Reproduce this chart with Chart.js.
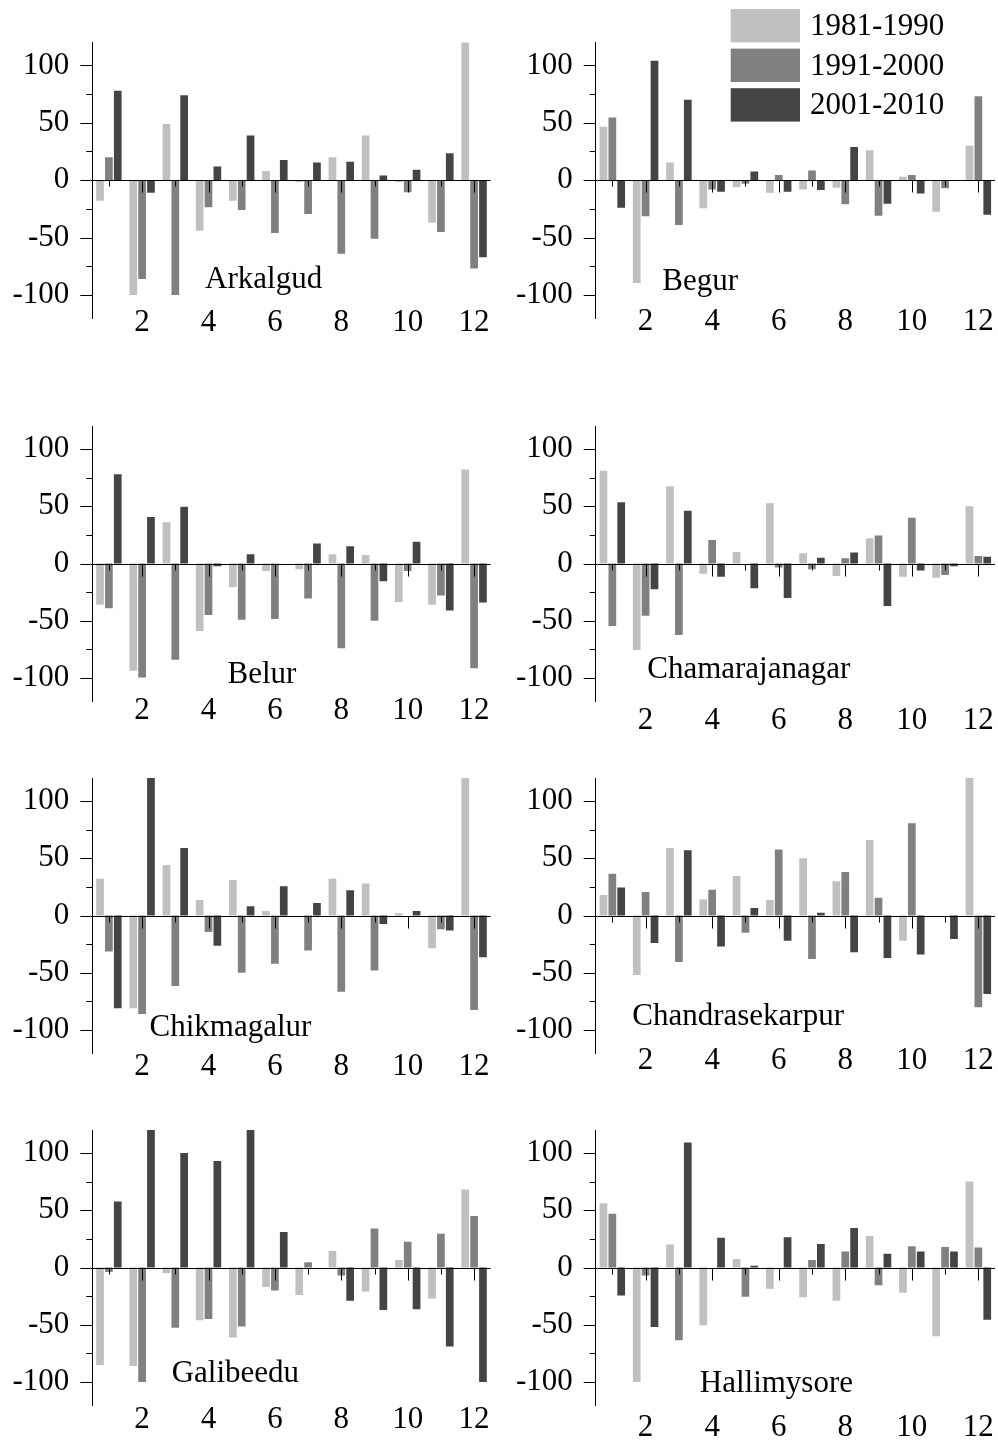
<!DOCTYPE html>
<html>
<head>
<meta charset="utf-8">
<script src="https://cdn.jsdelivr.net/npm/chart.js@4.4.1/dist/chart.umd.min.js"></script>
<style>
  body { margin: 0; background: #fff; width: 998px; height: 1444px; position: relative; overflow: hidden; }
  canvas { position: absolute; }
</style>
</head>
<body>
<script>
// months on the x axis, periods in the legend
const months = ['1', '2', '3', '4', '5', '6', '7', '8', '9', '10', '11', '12'];
const periods = ['1981-1990', '1991-2000', '2001-2010'];
const shades = ['#c0c0c0', '#808080', '#444444'];
const yLabels = [-100, -50, 0, 50, 100];
const yTickVals = [-100, -75, -50, -25, 0, 25, 50, 75, 100];

// values (bars above 120 are cut off in the original)
const arkalgud81 = [-18, -100, 49, -44, -18, 8, -1.5, 20, 39, -1.5, -37, 135];
const arkalgud91 = [20, -86, -100, -23.5, -26, -46, -29.5, -64, -51, -10.5, -45, -77];
const arkalgud01 = [78, -11, 74, 12, 39, 17.5, 15.5, 16, 4, 9, 23.5, -67];

const begur81 = [46.5, -89.5, 15.5, -24.5, -6, -11, -8, -6.5, 26, 3, -27.5, 30];
const begur91 = [54.5, -31.5, -39, -8, -3, 4.5, 8.5, -21, -31, 4.5, -7, 73];
const begur01 = [-24, 104, 70, -10, 7.5, -10, -8.5, 29, -20.5, -11.5, 0, -30];

const belur81 = [-36, -93.5, 36, -59, -20.5, -6.5, -5, 8, 7.5, -33.5, -36, 82];
const belur91 = [-39, -99.5, -84, -45, -49, -48.5, -30.5, -74, -50, -6.5, -28, -91.5];
const belur01 = [78, 40.5, 49.5, -2.5, 8, 0, 17.5, 15, -15.5, 19, -41, -34];

const chamara81 = [81, -75.5, 67.5, -9, 10, 52.5, 9, -11, 22, -11.5, -12.5, 50];
const chamara91 = [-54.5, -45.5, -62.5, 20.5, 0, -3.5, -5, 4.5, 24.5, 40, -10, 6.5];
const chamara01 = [53.5, -22.5, 46, -11.5, -21.5, -30, 5, 9.5, -37, -6, -2.5, 6];

const chikma81 = [32, -81, 44, 13.5, 31, 4, 0, 32, 28, 2, -28.5, 135];
const chikma91 = [-31.5, -86, -61.5, -14.5, -50, -42, -30.5, -66.5, -48, 0, -12, -82.5];
const chikma01 = [-81, 135, 59, -26.5, 8, 25.5, 11, 22, -7.5, 4, -13, -36.5];

const chandra81 = [18, -52, 59, 14, 34.5, 13.5, 50, 30, 66, -22, 0, 135];
const chandra91 = [36.5, 20.5, -40.5, 22.5, -15, 57.5, -38, 38, 15.5, 80.5, 0, -80];
const chandra01 = [24.5, -24, 57, -27, 6.5, -22, 2.5, -32, -37, -34, -20.5, -68.5];

const galib81 = [-85, -86, -5, -46, -61, -17, -24, 14.5, -21, 6.5, -27, 68];
const galib91 = [-4, -100, -52.5, -45, -51.5, -20, 4.5, -7, 34, 22.5, 29.5, 45];
const galib01 = [57.5, 135, 100, 93, 135, 31, 0, -29, -37, -36.5, -69, -100];

const halli81 = [56, -100, 20, -50.5, 7.5, -18.5, -26, -29, 27.5, -22, -60, 75];
const halli91 = [47, -7, -63.5, 0, -25.5, 0, 6.5, 14, -15.5, 18.5, 18, 17.5];
const halli01 = [-24.5, -52, 109, 26, 1.5, 26.5, 20.5, 34.5, 12, 14, 14, -45.5];

const names = ['Arkalgud', 'Begur', 'Belur', 'Chamarajanagar', 'Chikmagalur', 'Chandrasekarpur', 'Galibeedu', 'Hallimysore'];
const series = [
  [arkalgud81, arkalgud91, arkalgud01],
  [begur81, begur91, begur01],
  [belur81, belur91, belur01],
  [chamara81, chamara91, chamara01],
  [chikma81, chikma91, chikma01],
  [chandra81, chandra91, chandra01],
  [galib81, galib91, galib01],
  [halli81, halli91, halli01]
];

// layout (pixels / axis units)
const colLeft = [0, 500], colWidth = [500, 498];
const yAxisW = [92.3, 95.7], padRight = [9.3, 3];
const plotTop = [42.4, 425.7, 778, 1130], plotH = 275.2;
const labelDrop = [5, 4, 10, 20, 14, 8, 15, 23];
// where each station name sits: [month, value] of its baseline centre
const nameAt = [[5.66, -94.2], [3.64, -95.3], [5.61, -104.6], [5.1, -100.3],
                [4.66, -105.5], [4.78, -95.3], [4.81, -100.3], [5.93, -109]];

const FONT = '"Liberation Serif", "Times New Roman", serif';
Chart.defaults.font.family = FONT;
Chart.defaults.font.size = 31;
Chart.defaults.color = '#000';

const marks = {
  id: 'marks',
  afterDatasetsDraw(chart, args, opts) {
    const {ctx, chartArea: a, scales: {x, y}} = chart;
    const y0 = Math.round(y.getPixelForValue(0)) + 0.5;
    ctx.save();
    ctx.strokeStyle = '#000';
    ctx.lineWidth = 1;
    ctx.beginPath();
    ctx.moveTo(a.left, y0);
    ctx.lineTo(a.right, y0);
    months.forEach((m, i) => {
      const px = Math.round(x.getPixelForValue(i)) + 0.5;
      const len = (i + 1) % 2 === 0 ? 12 : 6;
      ctx.moveTo(px, y0);
      ctx.lineTo(px, y0 + len);
    });
    yTickVals.forEach(v => {
      const py = Math.round(y.getPixelForValue(v)) + 0.5;
      const len = v % 50 === 0 ? 12 : 6;
      ctx.moveTo(a.left - len, py);
      ctx.lineTo(a.left, py);
    });
    ctx.stroke();

    ctx.fillStyle = '#000';
    ctx.font = '31px ' + FONT;
    ctx.textAlign = 'center';
    ctx.textBaseline = 'middle';
    // month labels (even months only) under the plot
    months.forEach((m, i) => {
      if ((i + 1) % 2 === 0) ctx.fillText(m, x.getPixelForValue(i), a.bottom + opts.drop);
    });

    ctx.textBaseline = 'alphabetic';
    ctx.fillText(opts.name, x.getPixelForValue(opts.at[0] - 1), y.getPixelForValue(opts.at[1]));

    if (opts.legend) {
      ctx.textAlign = 'left';
      ctx.textBaseline = 'middle';
      chart.data.datasets.forEach((ds, i) => {
        const top = 9 + i * 39.6;
        ctx.fillStyle = ds.backgroundColor;
        ctx.fillRect(230.7, top, 69.3, 33.4);
        ctx.fillStyle = '#000';
        ctx.fillText(ds.label, 310, top + 18);
      });
    }
    ctx.restore();
  }
};

names.forEach((name, k) => {
  const row = Math.floor(k / 2), col = k % 2;
  const canvasTop = row === 0 ? 0 : plotTop[row] - 20;
  const padTop = plotTop[row] - canvasTop;
  const padBottom = 45;
  const cv = document.createElement('canvas');
  cv.width = colWidth[col];
  cv.height = Math.round(padTop + plotH + padBottom);
  cv.style.left = colLeft[col] + 'px';
  cv.style.top = canvasTop + 'px';
  document.body.appendChild(cv);

  new Chart(cv, {
    type: 'bar',
    data: {
      labels: months,
      datasets: series[k].map((vals, i) => ({
        label: periods[i],
        data: vals,
        backgroundColor: shades[i],
        borderWidth: 0,
        categoryPercentage: 0.8,
        barPercentage: 0.87
      }))
    },
    options: {
      responsive: false,
      animation: false,
      layout: { padding: { top: padTop, right: padRight[col], left: 0, bottom: padBottom } },
      plugins: {
        legend: { display: false },
        tooltip: { enabled: false },
        marks: { name: name, at: nameAt[k], drop: labelDrop[k], legend: k === 1 }
      },
      scales: {
        x: {
          grid: { display: false, drawTicks: false },
          border: { display: false },
          ticks: { display: false },
          afterFit: s => { s.height = 0; s.paddingLeft = 0; s.paddingRight = 0; }
        },
        y: {
          min: -120,
          max: 120,
          grid: { display: false, drawTicks: false },
          border: { display: true, color: '#000', width: 1 },
          ticks: { padding: 23 },
          afterBuildTicks: s => { s.ticks = yLabels.map(v => ({ value: v })); },
          afterFit: s => { s.width = yAxisW[col]; s.paddingTop = 0; s.paddingBottom = 0; }
        }
      }
    },
    plugins: [marks]
  });
});
</script>
</body>
</html>
